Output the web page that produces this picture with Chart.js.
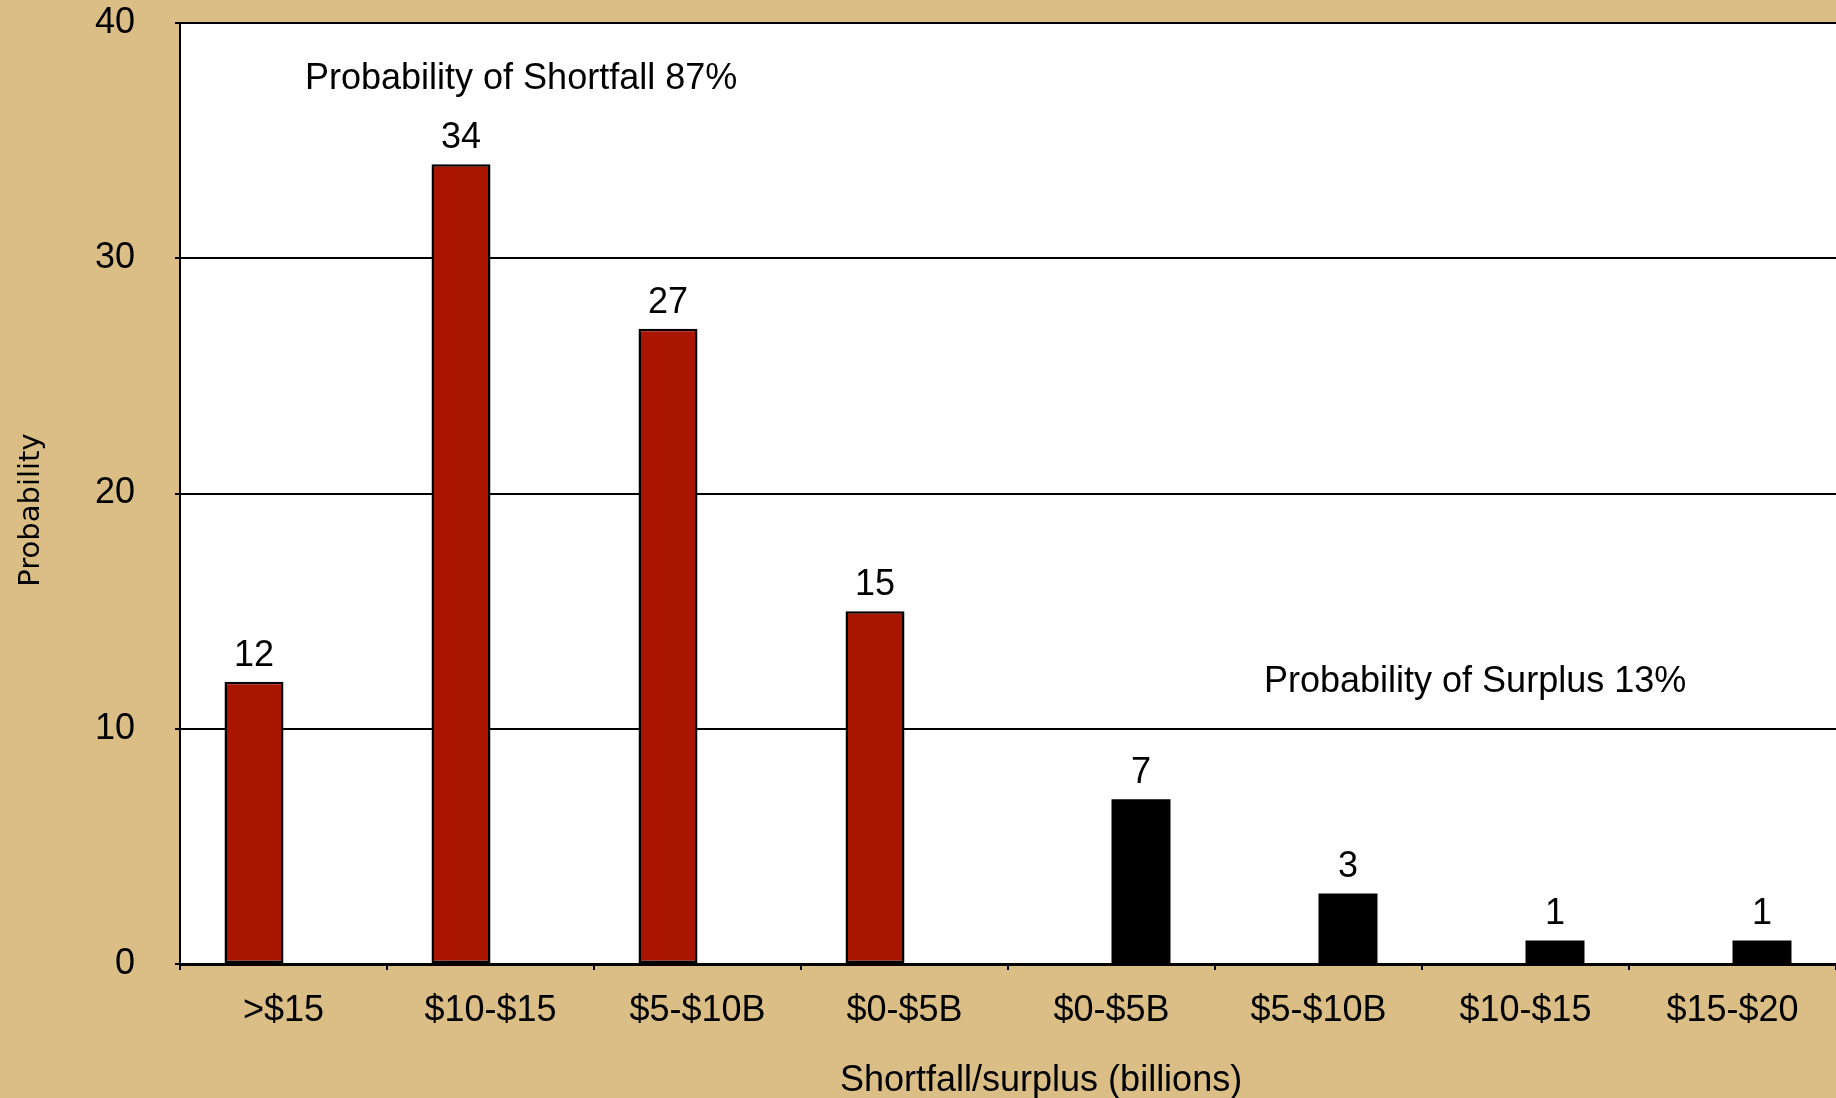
<!DOCTYPE html>
<html>
<head>
<meta charset="utf-8">
<script src="https://cdn.jsdelivr.net/npm/chart.js@4.4.1/dist/chart.umd.min.js"></script>
<style>
  html, body { margin: 0; padding: 0; background: #DBBE85; overflow: hidden; }
  #wrap { width: 1836px; height: 1098px; position: relative; }
</style>
</head>
<body>
<div id="wrap"><canvas id="c" width="1836" height="1098"></canvas></div>
<script>
// ---- data ----
const categories = ['>$15', '$10-$15', '$5-$10B', '$0-$5B', '$0-$5B', '$5-$10B', '$10-$15', '$15-$20'];
const shortfallValues = [12, 34, 27, 15, null, null, null, null];
const surplusValues = [null, null, null, null, 7, 3, 1, 1];
const yTicks = [0, 10, 20, 30, 40];
const shortfallNote = 'Probability of Shortfall 87%';
const surplusNote = 'Probability of Surplus 13%';
const xTitle = 'Shortfall/surplus (billions)';
const yTitle = 'Probability';

const FONT = "'Liberation Sans', Arial, Helvetica, sans-serif";

const bgPlugin = {
  id: 'bg',
  beforeDraw(chart) {
    const { ctx, chartArea: a } = chart;
    ctx.save();
    ctx.fillStyle = '#DBBE85';
    ctx.fillRect(0, 0, chart.width, chart.height);
    ctx.fillStyle = '#FFFFFF';
    ctx.fillRect(a.left, a.top, a.right - a.left, a.bottom - a.top);
    ctx.restore();
  }
};

const labelPlugin = {
  id: 'valueLabels',
  afterDatasetsDraw(chart) {
    const { ctx } = chart;
    ctx.save();
    ctx.fillStyle = '#000';
    ctx.font = '36px ' + FONT;
    ctx.textAlign = 'center';
    ctx.textBaseline = 'alphabetic';
    chart.data.datasets.forEach((ds, di) => {
      const meta = chart.getDatasetMeta(di);
      meta.data.forEach((el, i) => {
        const v = ds.data[i];
        if (v === null || v === undefined) return;
        ctx.fillText(String(v), el.x, el.y - 16);
      });
    });
    // annotations
    const y = chart.scales.y;
    ctx.textAlign = 'left';
    ctx.fillText(shortfallNote, 305, y.getPixelForValue(37.2));
    ctx.fillText(surplusNote, 1264, y.getPixelForValue(11.55));
    // x title
    ctx.font = '36px ' + FONT;
    ctx.fillText(xTitle, 840, 1091);
    // y title
    ctx.font = "29px 'DejaVu Sans', Verdana, sans-serif";
    ctx.translate(39, 510);
    ctx.rotate(-Math.PI / 2);
    ctx.textAlign = 'center';
    ctx.fillText(yTitle, 0, 0);
    ctx.restore();
  }
};

new Chart(document.getElementById('c'), {
  type: 'bar',
  data: {
    labels: categories,
    datasets: [
      {
        label: 'Shortfall',
        data: shortfallValues,
        backgroundColor: '#AA1500',
        borderColor: '#000000',
        borderWidth: 2.5,
        borderSkipped: false,
        categoryPercentage: 0.57,
        barPercentage: 1.0
      },
      {
        label: 'Surplus',
        data: surplusValues,
        backgroundColor: '#000000',
        borderColor: '#000000',
        borderWidth: 0,
        categoryPercentage: 0.57,
        barPercentage: 1.0
      }
    ]
  },
  options: {
    responsive: false,
    animation: false,
    devicePixelRatio: 1,
    layout: { padding: { top: 23, left: 0, right: 0, bottom: 0 } },
    plugins: {
      legend: { display: false },
      tooltip: { enabled: false },
      title: { display: false }
    },
    scales: {
      x: {
        type: 'category',
        offset: true,
        grid: {
          offset: true,
          display: true,
          drawOnChartArea: false,
          drawTicks: true,
          tickLength: 6,
          color: '#000',
          lineWidth: 2
        },
        border: { display: true, color: '#000', width: 3 },
        ticks: {
          color: '#000',
          font: { family: FONT, size: 36 },
          padding: 19,
          maxRotation: 0,
          autoSkip: false
        },
        afterFit(scale) {
          scale.height = 134;
          scale.paddingLeft = 0;
          scale.paddingRight = 0;
        }
      },
      y: {
        min: 0,
        max: 40,
        afterBuildTicks(scale) { scale.ticks = yTicks.map(v => ({ value: v })); },
        grid: {
          color: '#000',
          lineWidth: 2,
          drawTicks: true,
          tickLength: 5
        },
        border: { display: true, color: '#000', width: 2 },
        ticks: {
          color: '#000',
          font: { family: FONT, size: 36 },
          padding: 40
        },
        afterFit(scale) {
          scale.width = 180;
          scale.paddingTop = 0;
          scale.paddingBottom = 0;
        }
      }
    }
  },
  plugins: [bgPlugin, labelPlugin]
});
</script>
</body>
</html>
